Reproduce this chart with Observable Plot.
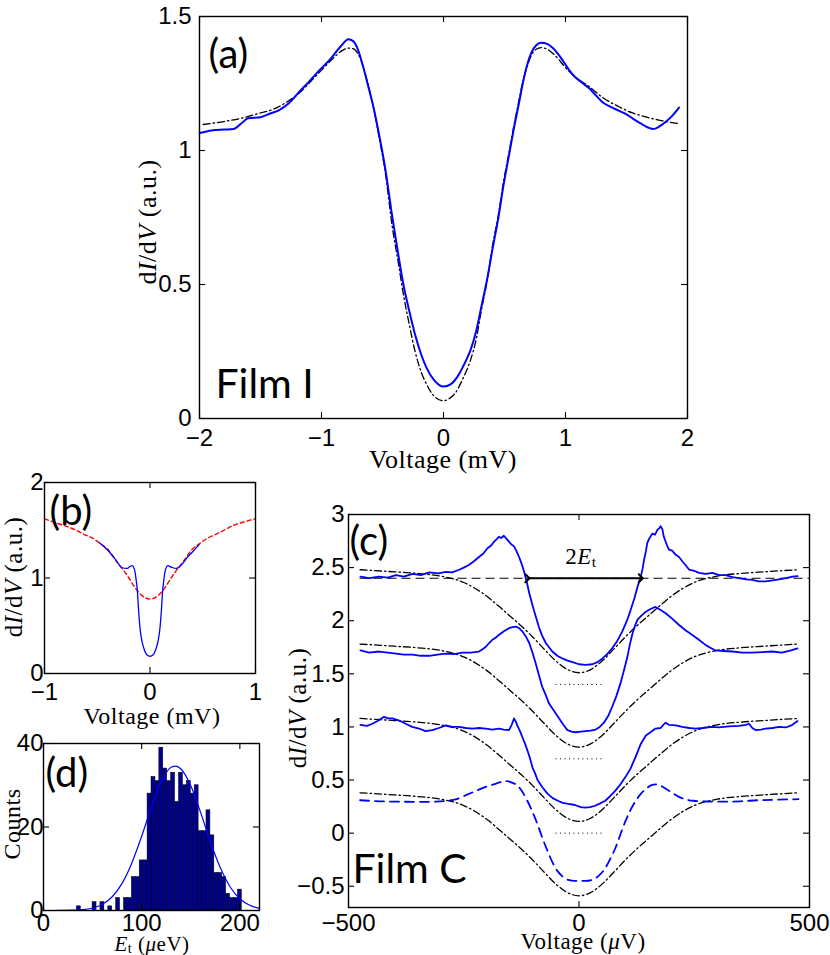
<!DOCTYPE html>
<html><head><meta charset="utf-8">
<script src="https://cdn.jsdelivr.net/npm/d3@7"></script>
<script src="https://cdn.jsdelivr.net/npm/@observablehq/plot@0.6"></script>
<style>
body{margin:0;background:#fff;}
#root{position:relative;width:830px;height:955px;overflow:hidden;background:#fff;}
.p{position:absolute;}
.lab{position:absolute;font-family:"Liberation Serif","Times New Roman",serif;font-size:26px;letter-spacing:0.5px;white-space:nowrap;transform:translate(-50%,-50%);color:#000;line-height:1;}
.rot{transform:translate(-50%,-50%) rotate(-90deg);}
.lab sub{font-size:0.68em;vertical-align:-0.2em;line-height:0;}
</style></head>
<body><div id="root"></div>
<script>
// ---------- Panel (a) : Film I ----------
const aXTicks = [-2, -1, 0, 1, 2];
const aYTicks = [0, 0.5, 1, 1.5];
const aDataV = [-2.00,-1.90,-1.80,-1.72,-1.66,-1.60,-1.50,-1.42,-1.35,-1.27,-1.18,-1.10,-1.02,-0.93,-0.84,-0.78,-0.74,-0.70,-0.66,-0.62,-0.57,-0.52,-0.48,-0.42,-0.37,-0.33,-0.28,-0.235,-0.18,-0.14,-0.08,0.00,0.06,0.12,0.18,0.22,0.27,0.31,0.36,0.40,0.45,0.49,0.54,0.58,0.62,0.645,0.68,0.72,0.76,0.80,0.85,0.89,0.94,0.98,1.03,1.07,1.13,1.19,1.25,1.31,1.37,1.43,1.50,1.55,1.62,1.68,1.72,1.77,1.83,1.88,1.93];
const aDataY = [1.065,1.075,1.078,1.080,1.100,1.120,1.124,1.138,1.150,1.175,1.220,1.258,1.298,1.340,1.390,1.415,1.408,1.375,1.315,1.245,1.153,1.040,0.940,0.753,0.610,0.503,0.400,0.316,0.235,0.190,0.145,0.119,0.128,0.160,0.212,0.253,0.330,0.416,0.525,0.628,0.750,0.865,0.990,1.090,1.180,1.240,1.310,1.365,1.393,1.402,1.398,1.385,1.360,1.334,1.300,1.278,1.255,1.234,1.205,1.178,1.163,1.150,1.135,1.120,1.100,1.085,1.080,1.090,1.110,1.132,1.160];
const aFitV = [-1.97,-1.80,-1.66,-1.50,-1.39,-1.28,-1.18,-1.08,-1.00,-0.90,-0.84,-0.78,-0.74,-0.70,-0.66,-0.62,-0.57,-0.52,-0.48,-0.42,-0.37,-0.33,-0.28,-0.235,-0.18,-0.14,-0.08,0.00,0.05,0.10,0.16,0.22,0.27,0.31,0.36,0.40,0.45,0.49,0.54,0.58,0.62,0.645,0.68,0.72,0.76,0.80,0.85,0.89,0.94,0.98,1.07,1.19,1.31,1.43,1.55,1.65,1.75,1.85,1.93];
const aFitY = [1.097,1.108,1.120,1.140,1.155,1.182,1.215,1.262,1.300,1.346,1.370,1.382,1.380,1.360,1.315,1.250,1.153,1.030,0.928,0.716,0.580,0.466,0.350,0.254,0.170,0.129,0.085,0.066,0.075,0.097,0.150,0.216,0.300,0.403,0.520,0.640,0.760,0.878,1.000,1.100,1.190,1.246,1.305,1.355,1.378,1.384,1.378,1.365,1.342,1.320,1.278,1.240,1.196,1.165,1.140,1.126,1.115,1.106,1.100];

// ---------- Panel (b) ----------
const bXTicks = [-1, 0, 1];
const bYTicks = [0, 1, 2];
const bRedV = [-1.0,-0.9,-0.79,-0.7,-0.63,-0.55,-0.47,-0.4,-0.345,-0.3,-0.25,-0.2,-0.155,-0.09,-0.04,0,0.04,0.09,0.155,0.2,0.25,0.3,0.345,0.4,0.47,0.55,0.63,0.7,0.79,0.9,1.0];
const bRedY = [1.62,1.58,1.54,1.50,1.46,1.42,1.36,1.30,1.22,1.15,1.08,1.00,0.92,0.83,0.79,0.78,0.79,0.83,0.92,1.00,1.08,1.15,1.22,1.30,1.36,1.42,1.46,1.50,1.55,1.59,1.62];
const bBlueV = [-0.48,-0.40,-0.34,-0.30,-0.27,-0.22,-0.19,-0.17,-0.145,-0.13,-0.12,-0.108,-0.092,-0.075,-0.06,-0.03,0,0.03,0.06,0.075,0.092,0.108,0.12,0.13,0.145,0.17,0.19,0.21,0.25,0.30,0.35,0.40,0.465];
const bBlueY = [1.37,1.29,1.21,1.15,1.11,1.10,1.12,1.13,1.08,0.97,0.87,0.66,0.45,0.33,0.27,0.196,0.18,0.196,0.27,0.33,0.45,0.66,0.87,0.97,1.08,1.13,1.12,1.11,1.10,1.14,1.21,1.27,1.35];

// ---------- Panel (c) : Film C ----------
const cXTicks = [-500, 0, 500];
const cYTicks = [-0.5, 0, 0.5, 1, 1.5, 2, 2.5, 3];
const c1V = [-474,-455,-434,-415,-397,-380,-361,-343,-325,-305,-289,-275,-260,-250,-239,-228,-217,-208,-199,-190,-184,-178,-174,-168,-163,-157,-152,-147,-141,-135,-130,-124,-119,-113,-108,-98,-87,-80,-72,-65,-58,-47,-36,-25,-14,0,14,29,40,51,62,72,83,94,104,112,120,127,134,138,141,145,148,152,159,165,170,174,177,181,184,190,195,202,210,217,224,232,239,250,260,275,289,304,318,333,347,362,376,390,405,420,434,449,463,474];
const c1Y = [2.415,2.40,2.415,2.405,2.43,2.415,2.44,2.43,2.455,2.445,2.46,2.455,2.48,2.50,2.525,2.56,2.60,2.63,2.68,2.71,2.745,2.77,2.79,2.78,2.80,2.77,2.745,2.72,2.70,2.65,2.60,2.53,2.46,2.36,2.26,2.10,1.94,1.86,1.79,1.75,1.71,1.67,1.645,1.625,1.61,1.59,1.585,1.59,1.61,1.645,1.69,1.74,1.81,1.90,2.00,2.10,2.21,2.32,2.415,2.49,2.57,2.65,2.73,2.77,2.82,2.81,2.855,2.87,2.89,2.86,2.79,2.72,2.67,2.66,2.62,2.60,2.56,2.52,2.48,2.47,2.45,2.44,2.45,2.43,2.43,2.41,2.40,2.39,2.385,2.37,2.37,2.38,2.39,2.40,2.415,2.42];
const c2V = [-474,-455,-434,-415,-397,-380,-361,-343,-325,-307,-289,-271,-253,-235,-217,-210,-202,-195,-188,-181,-174,-163,-152,-144,-137,-130,-123,-115,-108,-101,-94,-87,-80,-72,-65,-54,-43,-34,-25,-16,-7,4,14,25,36,45,54,63,72,81,90,98,105,110,116,122,127,136,145,155,166,177,188,202,217,231,246,260,275,285,296,314,333,354,376,398,419,440,460,474];
const c2Y = [1.72,1.70,1.71,1.70,1.69,1.68,1.68,1.67,1.67,1.68,1.69,1.685,1.70,1.70,1.71,1.73,1.755,1.79,1.82,1.84,1.865,1.90,1.93,1.94,1.945,1.93,1.90,1.85,1.79,1.70,1.60,1.49,1.38,1.30,1.22,1.15,1.08,1.02,0.97,0.955,0.95,0.955,0.96,0.965,0.975,1.00,1.04,1.10,1.19,1.29,1.41,1.54,1.66,1.77,1.88,1.96,2.01,2.05,2.085,2.11,2.13,2.10,2.07,2.02,1.96,1.91,1.865,1.82,1.77,1.745,1.72,1.715,1.71,1.70,1.70,1.705,1.71,1.70,1.72,1.74];
const c3V = [-474,-460,-448,-435,-423,-414,-405,-390,-376,-362,-347,-333,-318,-304,-289,-275,-260,-246,-231,-217,-202,-188,-174,-163,-152,-146,-141,-137,-134,-128,-123,-117,-112,-106,-101,-95,-90,-79,-68,-57,-46,-35,-23,-9,4,13,24,35,46,57,68,79,90,101,112,123,134,145,155,166,177,183,188,195,210,224,239,253,268,289,304,325,347,362,369,376,383,395,405,420,434,449,463,474];
const c3Y = [1.02,1.01,1.03,1.06,1.095,1.08,1.08,1.06,1.03,1.00,0.985,0.96,0.97,0.99,1.015,1.00,1.00,0.99,0.985,0.99,0.985,0.975,0.985,0.975,0.97,1.02,1.08,1.05,1.015,0.96,0.905,0.84,0.78,0.70,0.62,0.56,0.50,0.43,0.37,0.33,0.305,0.285,0.275,0.265,0.245,0.24,0.245,0.258,0.28,0.305,0.35,0.40,0.46,0.53,0.61,0.72,0.84,0.92,0.95,0.985,0.99,1.02,1.04,1.02,1.015,1.00,0.99,0.985,0.99,1.00,0.995,1.005,1.01,1.02,1.03,0.99,0.97,0.975,0.985,0.99,1.00,0.995,1.02,1.055];
const c4V = [-475,-430,-383,-340,-310,-285,-266,-244,-222,-200,-185,-170,-156,-145,-134,-123,-112,-101,-90,-79,-68,-57,-46,-35,-23,-10,0,14,28,43,57,68,79,90,101,112,123,134,145,156,167,178,189,204,219,234,248,280,314,350,388,430,476];
const c4Y = [0.31,0.30,0.296,0.295,0.296,0.305,0.32,0.36,0.40,0.44,0.46,0.48,0.49,0.475,0.45,0.39,0.305,0.20,0.083,-0.05,-0.17,-0.28,-0.36,-0.41,-0.44,-0.45,-0.45,-0.45,-0.44,-0.40,-0.33,-0.24,-0.14,-0.01,0.115,0.22,0.305,0.37,0.416,0.45,0.46,0.445,0.416,0.375,0.337,0.315,0.305,0.298,0.296,0.30,0.31,0.315,0.32];
const cFitV = [-475,-400,-350,-300,-250,-200,-175,-150,-125,-100,-75,-50,-25,0,25,50,75,100,125,150,175,200,250,300,350,400,475];
const cFit1 = [2.48,2.46,2.445,2.42,2.36,2.23,2.14,2.045,1.95,1.845,1.73,1.62,1.54,1.51,1.54,1.62,1.73,1.845,1.95,2.045,2.14,2.23,2.36,2.42,2.445,2.46,2.48];
const cFit2 = [1.78,1.76,1.745,1.72,1.66,1.53,1.44,1.345,1.25,1.145,1.03,0.92,0.84,0.81,0.84,0.92,1.03,1.145,1.25,1.345,1.44,1.53,1.66,1.72,1.745,1.76,1.78];
const cFit3 = [1.08,1.06,1.045,1.02,0.96,0.83,0.74,0.645,0.55,0.445,0.33,0.22,0.14,0.11,0.14,0.22,0.33,0.445,0.55,0.645,0.74,0.83,0.96,1.02,1.045,1.06,1.08];
const cFit4 = [0.38,0.36,0.345,0.32,0.26,0.13,0.04,-0.055,-0.15,-0.255,-0.37,-0.48,-0.56,-0.59,-0.56,-0.48,-0.37,-0.255,-0.15,-0.055,0.04,0.13,0.26,0.32,0.345,0.36,0.38];
const cDotLevels = [1.4, 0.7, 0];
const cDotSpan = [-50, 50];
const cRefLevel = 2.4;
const cRefSpan = [-475, 500];
const cArrowSpan = [-112, 134];

// ---------- Panel (d) : histogram ----------
const dXTicks = [0, 100, 200];
const dYTicks = [0, 20, 40];
const dBinWidth = 4;
const dBinStart = [34,50,58,66,74,82,86,90,94,98,102,106,110,114,118,122,126,130,134,138,142,146,150,154,158,162,166,170,174,178,182,186,190,194,198];
const dCounts   = [1,2,2,1,3,3,3,8,8,12,12,28,32,31,39,34,31,33,26,33,30,31,28,30,19,19,24,18,9,9,8,4,3,3,5];
const dFitX = [0,10,20,30,40,50,60,70,80,90,100,110,120,130,135,140,150,160,170,180,190,200,210,220];
const dFitY = [0,0,0.02,0.07,0.2,0.6,1.5,3.3,6.5,11.4,17.8,24.8,30.9,34.3,34.6,33.9,29.9,23.5,16.4,10.3,5.7,2.8,1.25,0.5];

// ---------- helpers ----------
const pts = (xs, ys) => xs.map((x, i) => ({x, y: ys[i]}));
const fmt = d => (d < 0 ? "\u2212" : "") + Math.abs(d);
const BLUE = "#0000ff";
const DASHDOT = "7,3,1.5,3";
const TICKFONT = 24;
const baseStyle = {background: "transparent", fontFamily: "'Liberation Sans', Arial, sans-serif", fontSize: "24px", color: "black", overflow: "visible"};
function frameMarks(xt, yt, iw, ih, padX, padY) {
  const L = 6;
  return [
    Plot.tickX(xt, {x: d => d, insetTop: ih - L, stroke: "black", strokeWidth: 1.1}),
    Plot.tickX(xt, {x: d => d, insetBottom: ih - L, stroke: "black", strokeWidth: 1.1}),
    Plot.tickY(yt, {y: d => d, insetRight: iw - L, stroke: "black", strokeWidth: 1.1}),
    Plot.tickY(yt, {y: d => d, insetLeft: iw - L, stroke: "black", strokeWidth: 1.1}),
    Plot.frame({stroke: "black", strokeWidth: 1.4}),
    Plot.axisX(xt, {tickSize: 0, tickPadding: padX, fontSize: TICKFONT, tickFormat: fmt, label: null}),
    Plot.axisY(yt, {tickSize: 0, tickPadding: padY, fontSize: TICKFONT, tickFormat: fmt, label: null})
  ];
}
const panelText = (s, anchor, dx, dy, size) =>
  Plot.text([s], {text: d => d, frameAnchor: anchor, lineAnchor: "middle", dx, dy, fontSize: size, fontFamily: "Lato, 'Open Sans', sans-serif", textAnchor: "start", fill: "black"});

const root = document.getElementById("root");
function place(svg, left, top, w) {
  const div = document.createElement("div");
  div.className = "p"; div.style.left = left + "px"; div.style.top = top + "px"; div.style.width = w + "px";
  div.appendChild(svg); root.appendChild(div);
}
function label(html, cx, cy, rot, size) {
  const div = document.createElement("div");
  div.className = "lab" + (rot ? " rot" : "");
  div.style.left = cx + "px"; div.style.top = cy + "px";
  if (size) div.style.fontSize = size + "px";
  div.innerHTML = html; root.appendChild(div);
}

// ---------- (a) ----------
place(Plot.plot({
  width: 700, height: 470, marginLeft: 199, marginRight: 13, marginTop: 16, marginBottom: 52,
  x: {domain: [-2, 2], label: null}, y: {domain: [0, 1.5], label: null}, style: baseStyle,
  marks: [
    Plot.line(pts(aFitV, aFitY), {x: "x", y: "y", stroke: "black", strokeWidth: 1.3, strokeDasharray: DASHDOT, curve: "monotone-x"}),
    Plot.line(pts(aDataV, aDataY), {x: "x", y: "y", stroke: BLUE, strokeWidth: 2, curve: "monotone-x"}),
    ...frameMarks(aXTicks, aYTicks, 488, 402, 10, 8),
    panelText("(a)", "top-left", 9, 39, 40),
    panelText("Film I", "bottom-left", 16, -34, 41)
  ]
}), 0, 0, 700);

// ---------- (b) ----------
place(Plot.plot({
  width: 270, height: 230, marginLeft: 44, marginRight: 15, marginTop: 12, marginBottom: 27,
  x: {domain: [-1, 1], label: null}, y: {domain: [0, 2], label: null}, style: baseStyle,
  marks: [
    Plot.line(pts(bRedV, bRedY), {x: "x", y: "y", stroke: "#ff0000", strokeWidth: 1.4, strokeDasharray: "4,3", curve: "monotone-x"}),
    Plot.line(pts(bBlueV, bBlueY), {x: "x", y: "y", stroke: BLUE, strokeWidth: 1.3, curve: "monotone-x"}),
    ...frameMarks(bXTicks, bYTicks, 211, 191, 9, 1),
    panelText("(b)", "top-left", 5, 30, 40)
  ]
}), 0, 470, 270);

// ---------- (d) ----------
place(Plot.plot({
  width: 270, height: 215, marginLeft: 43, marginRight: 11, marginTop: 8, marginBottom: 40,
  x: {domain: [0, 220], label: null}, y: {domain: [0, 40], label: null}, style: baseStyle,
  marks: [
    Plot.rectY(dBinStart.map((s, i) => ({x1: s, x2: s + dBinWidth, y: dCounts[i]})),
      {x1: "x1", x2: "x2", y: "y", fill: "#00008f", stroke: "black", strokeWidth: 0.5}),
    Plot.line(pts(dFitX, dFitY), {x: "x", y: "y", stroke: BLUE, strokeWidth: 1.2, curve: "monotone-x"}),
    ...frameMarks(dXTicks, dYTicks, 216, 167, 3, 0),
    panelText("(d)", "top-left", 2, 31, 40)
  ]
}), 0, 735, 270);

// ---------- (c) ----------
place(Plot.plot({
  width: 540, height: 455, marginLeft: 58, marginRight: 21, marginTop: 14, marginBottom: 48,
  x: {domain: [-500, 500], label: null}, y: {domain: [-0.7, 3], label: null}, style: baseStyle,
  marks: [
    Plot.ruleY(cDotLevels, {y: d => d, x1: () => cDotSpan[0], x2: () => cDotSpan[1], stroke: "black", strokeWidth: 1, strokeDasharray: "1,3.5"}),
    Plot.ruleY([cRefLevel], {y: d => d, x1: () => cRefSpan[0], x2: () => cRefSpan[1], stroke: "black", strokeWidth: 1.1, strokeDasharray: "9,5"}),
    Plot.line(pts(cFitV, cFit1), {x: "x", y: "y", stroke: "black", strokeWidth: 1.3, strokeDasharray: DASHDOT, curve: "monotone-x"}),
    Plot.line(pts(cFitV, cFit2), {x: "x", y: "y", stroke: "black", strokeWidth: 1.3, strokeDasharray: DASHDOT, curve: "monotone-x"}),
    Plot.line(pts(cFitV, cFit3), {x: "x", y: "y", stroke: "black", strokeWidth: 1.3, strokeDasharray: DASHDOT, curve: "monotone-x"}),
    Plot.line(pts(cFitV, cFit4), {x: "x", y: "y", stroke: "black", strokeWidth: 1.3, strokeDasharray: DASHDOT, curve: "monotone-x"}),
    Plot.line(pts(c1V, c1Y), {x: "x", y: "y", stroke: BLUE, strokeWidth: 1.8}),
    Plot.line(pts(c2V, c2Y), {x: "x", y: "y", stroke: BLUE, strokeWidth: 1.8}),
    Plot.line(pts(c3V, c3Y), {x: "x", y: "y", stroke: BLUE, strokeWidth: 1.8}),
    Plot.line(pts(c4V, c4Y), {x: "x", y: "y", stroke: BLUE, strokeWidth: 1.8, strokeDasharray: "9,6", curve: "monotone-x"}),
    Plot.link([cArrowSpan], {x1: d => d[0], x2: d => d[1], y1: () => cRefLevel, y2: () => cRefLevel, stroke: "black", strokeWidth: 2, markerStart: "arrow", markerEnd: "arrow"}),
    ...frameMarks(cXTicks, cYTicks, 461, 393, 6, 4),
    panelText("(c)", "top-left", 1, 28, 40),
    panelText("Film C", "bottom-left", 4, -38, 41)
  ]
}), 290, 500, 540);

// ---------- axis labels (HTML text) ----------
label("d<i>I</i>/d<i>V</i> (a.u.)", 148, 222, true, 26);
label("Voltage (mV)", 443, 460, false, 26);
label("d<i>I</i>/d<i>V</i> (a.u.)", 13, 577, true, 25);
label("Voltage (mV)", 152, 716, false, 24);
label("Counts", 12, 824, true, 24);
label("<i>E</i><sub>t</sub> (<i>&mu;</i>eV)", 152, 944, false, 21);
label("d<i>I</i>/d<i>V</i> (a.u.)", 297, 708, true, 25);
label("Voltage (<i>&mu;</i>V)", 583, 941, false, 23);
label("2<i>E</i><sub>t</sub>", 581, 556, false, 23);
</script>
</body></html>
